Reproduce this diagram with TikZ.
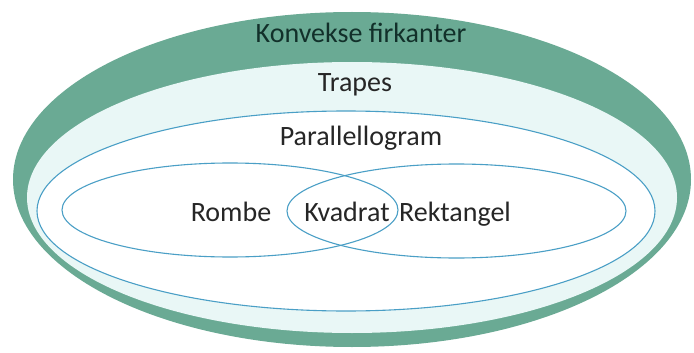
\documentclass[tikz,border=0pt]{standalone}
\usepackage{fontspec}
\setmainfont{Carlito}
\definecolor{bandgreen}{HTML}{6AAA94}
\definecolor{palecyan}{HTML}{E9F7F6}
\definecolor{setblue}{HTML}{4A9FC6}
\definecolor{labeldark}{HTML}{262626}
\definecolor{titledark}{HTML}{12302A}
\begin{document}
\begin{tikzpicture}[x=1pt,y=-1pt,
  setline/.style={draw=setblue,line width=1.1pt},
  lbl/.style={anchor=base,inner sep=0pt,text=labeldark,font=\fontsize{28}{33}\selectfont}]
\useasboundingbox (0,0) rectangle (694,353);
\fill[white] (0,0) rectangle (694,353);
% outer band
\fill[bandgreen] (352,179.5) ellipse [x radius=339pt, y radius=167.5pt];
% trapes region
\fill[palecyan] (352,197.5) ellipse [x radius=325pt, y radius=135.5pt];
% parallellogram
\fill[white] (346,211) ellipse [x radius=309pt, y radius=100pt];
\draw[setline] (346,211) ellipse [x radius=309pt, y radius=100pt];
% rombe and rektangel
\draw[setline] (230,210) ellipse [x radius=168pt, y radius=47pt];
\draw[setline] (456.5,211) ellipse [x radius=169.5pt, y radius=47pt];
% labels
\node[lbl,text=titledark] (konv) at (361,43) {Konvekse firkanter};
\node[lbl] (trap) at (355,92) {Trapes};
\node[lbl] (para) at (361,146) {Parallellogram};
\node[lbl] (romb) at (231,221) {Rombe};
\node[lbl] (kvad) at (347,221) {Kvadrat};
\node[lbl] (rekt) at (455,221) {Rektangel};
\end{tikzpicture}
\end{document}
